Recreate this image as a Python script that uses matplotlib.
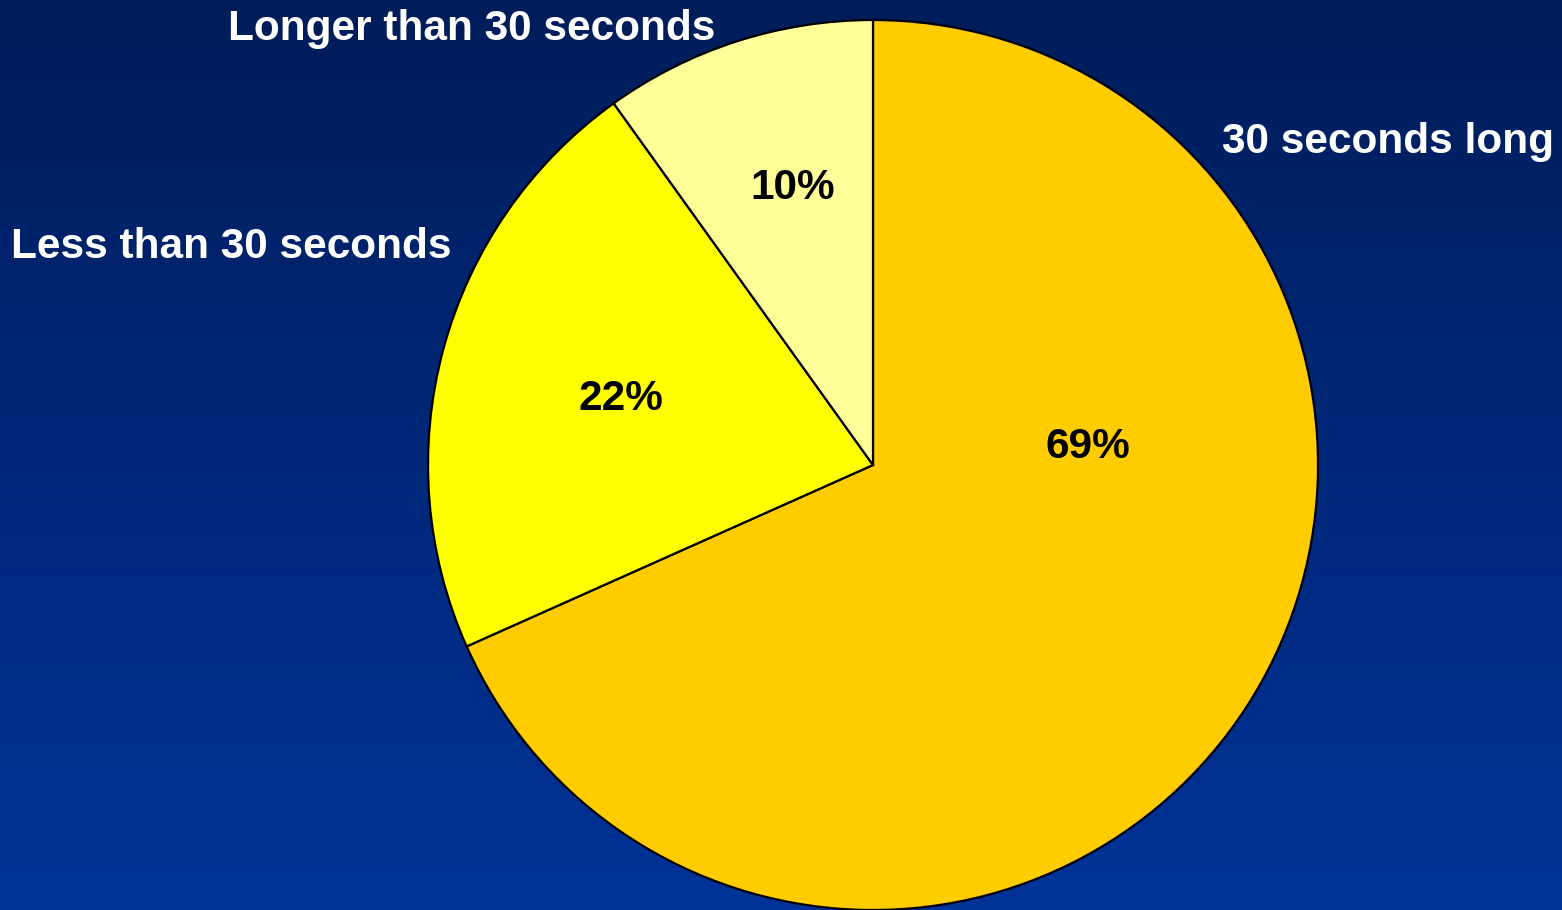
import numpy as np
import matplotlib
matplotlib.use("Agg")
import matplotlib.pyplot as plt
from matplotlib.colors import LinearSegmentedColormap

# Share of spots by length
categories = ["30 seconds long", "Less than 30 seconds", "Longer than 30 seconds"]
values = [69, 22, 10]
colors = ["#FFCC00", "#FFFF00", "#FFFF99"]

W, H = 1562, 910
fig = plt.figure(figsize=(W / 100, H / 100), dpi=100)
ax = fig.add_axes([0, 0, 1, 1])
ax.set_xlim(0, W)
ax.set_ylim(0, H)
ax.set_aspect("equal")
ax.axis("off")

# Vertical blue gradient background
cmap = LinearSegmentedColormap.from_list("bg", ["#003399", "#001D5A"])
grad = np.linspace(0, 1, 256).reshape(-1, 1)
ax.imshow(grad, cmap=cmap, extent=[0, W, 0, H], origin="lower", aspect="auto", zorder=0)

cx, cy, r = 873, H - 465, 445
wedges, _ = ax.pie(values, colors=colors, startangle=90, counterclock=False,
                   center=(cx, cy), radius=r, frame=True,
                   wedgeprops=dict(edgecolor="black", linewidth=1.6))
for w in wedges:
    w.set_zorder(2)
ax.set_xlim(0, W)
ax.set_ylim(0, H)
ax.axis("off")

font = dict(family=["Liberation Sans", "DejaVu Sans"], fontweight="bold", fontsize=30.5)

# Category labels around the pie
label_pos = [(1388, H - 153), (231, H - 258), (472, H - 40)]
for name, (x, y) in zip(categories, label_pos):
    ax.text(x, y, name, color="white", ha="center", va="baseline", zorder=3, **font)

# Percentage labels inside the slices
pct_pos = [(1088, H - 458), (621, H - 410), (793, H - 199)]
for v, (x, y) in zip(values, pct_pos):
    ax.text(x, y, f"{v}%", color="black", ha="center", va="baseline", zorder=3, **font)

fig.savefig("out.png", dpi=100)
